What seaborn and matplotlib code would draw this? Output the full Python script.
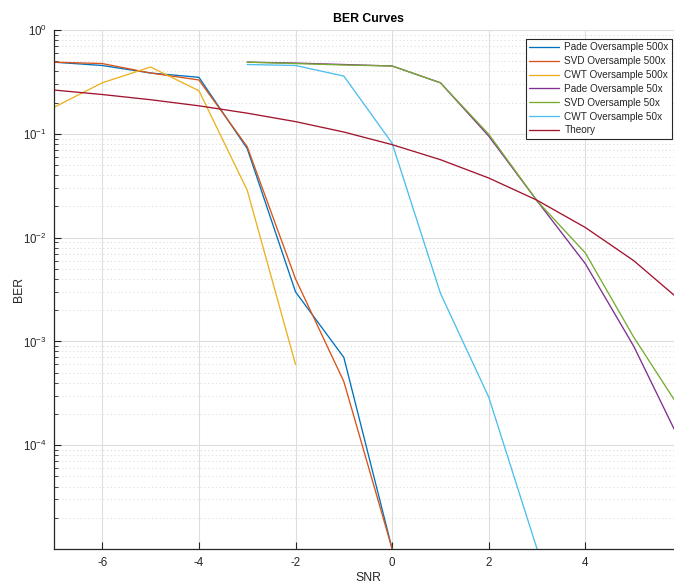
import numpy as np
import pandas as pd
import matplotlib
matplotlib.use("Agg")
import matplotlib.pyplot as plt
import seaborn as sns
from matplotlib.ticker import LogLocator, NullFormatter, FixedLocator

# ---- data -------------------------------------------------------------
snr_500 = [-7, -6, -5, -4, -3, -2, -1, 0]
pade_500 = [0.49, 0.455, 0.385, 0.35, 0.072, 0.0030, 7.0e-4, 1.0e-5]
svd_500 = [0.49, 0.475, 0.385, 0.33, 0.075, 0.0040, 4.1e-4, 1.0e-5]

snr_cwt_500 = [-7, -6, -5, -4, -3, -2]
cwt_500 = [0.18, 0.31, 0.44, 0.26, 0.0286, 6.0e-4]

snr_50 = [-3, -2, -1, 0, 1, 2, 3, 4, 5, 6]
pade_50 = [0.49, 0.48, 0.465, 0.45, 0.31, 0.095, 0.0226, 0.0056, 9.0e-4, 1.0e-4]
svd_50 = [0.49, 0.475, 0.46, 0.45, 0.31, 0.099, 0.0226, 0.0071, 1.1e-3, 2.1e-4]

snr_cwt_50 = [-3, -2, -1, 0, 1, 2, 3]
cwt_50 = [0.465, 0.455, 0.36, 0.081, 0.0029, 2.9e-4, 1.0e-5]

snr_theory = [-7, -6, -5, -4, -3, -2, -1, 0, 1, 2, 3, 4, 5, 6]
theory = [0.264, 0.239, 0.213, 0.186, 0.158, 0.131, 0.104, 0.0786,
          0.0563, 0.0375, 0.0229, 0.0125, 0.0060, 0.0024]

x_ticks = [-6, -4, -2, 0, 2, 4]
y_ticks = [1e-4, 1e-3, 1e-2, 1e-1, 1e0]

series = [
    ("Pade Oversample 500x", snr_500, pade_500, "#0072BD"),
    ("SVD Oversample 500x", snr_500, svd_500, "#D95319"),
    ("CWT Oversample 500x", snr_cwt_500, cwt_500, "#EDB120"),
    ("Pade Oversample 50x", snr_50, pade_50, "#7E2F8E"),
    ("SVD Oversample 50x", snr_50, svd_50, "#77AC30"),
    ("CWT Oversample 50x", snr_cwt_50, cwt_50, "#4DBEEE"),
    ("Theory", snr_theory, theory, "#A2142F"),
]

# ---- style ------------------------------------------------------------
sns.set_theme(style="white")
plt.rcParams["font.family"] = ["Liberation Sans", "DejaVu Sans"]
plt.rcParams["mathtext.default"] = "regular"
plt.rcParams["axes.unicode_minus"] = False
dark = "#262626"

fig = plt.figure(figsize=(6.74, 5.83), dpi=100)
ax = fig.add_axes([54 / 674, 34 / 583, 628 / 674, 519 / 583])

for name, xs, ys, color in series:
    df = pd.DataFrame({"SNR": xs, "BER": ys})
    sns.lineplot(data=df, x="SNR", y="BER", ax=ax, color=color,
                 linewidth=0.95, label=name, estimator=None, sort=False)

ax.set_yscale("log")
ax.set_xlim(-7, 6)
ax.set_ylim(1e-5, 1)
ax.xaxis.set_major_locator(FixedLocator(x_ticks))
ax.yaxis.set_major_locator(FixedLocator(y_ticks))
ax.yaxis.set_minor_locator(LogLocator(base=10, subs=np.arange(2, 10), numticks=20))
ax.yaxis.set_minor_formatter(NullFormatter())

# grid: solid major lines, dotted minor lines
ax.grid(True, which="major", color="#dedede", linewidth=0.8, linestyle="-")
ax.grid(True, which="minor", axis="y", color="#d8d8d8", linewidth=0.6,
        linestyle=(0, (1.5, 3)))
ax.set_axisbelow(True)

for side in ("top", "right"):
    ax.spines[side].set_visible(False)
for side in ("left", "bottom"):
    ax.spines[side].set_color(dark)
    ax.spines[side].set_linewidth(0.9)

ax.tick_params(axis="both", which="major", direction="in", length=5,
               width=0.8, color=dark, labelcolor=dark, labelsize=8.3,
               left=True, bottom=True, pad=6)
ax.tick_params(axis="y", which="minor", direction="in", length=3,
               width=0.6, color=dark, left=True)
ax.tick_params(axis="y", which="major", pad=5)

ax.set_xlabel("SNR", fontsize=8.8, color=dark)
ax.set_ylabel("BER", fontsize=8.8, color=dark)
ax.xaxis.set_label_coords(0.5, -0.044)
ax.yaxis.set_label_coords(-0.046, 0.5)
ax.set_title("BER Curves", fontsize=8.8, fontweight="bold", color="black", pad=6)

leg = ax.legend(loc="upper right", bbox_to_anchor=(672 / 674, 1 - 39 / 583),
                bbox_transform=fig.transFigure, borderaxespad=0,
                fontsize=7.2, frameon=True, fancybox=False,
                handlelength=3.0, handletextpad=0.5, labelspacing=0.38,
                borderpad=0.35)
leg.get_frame().set_edgecolor(dark)
leg.get_frame().set_linewidth(0.8)
leg.get_frame().set_facecolor("white")
leg.get_frame().set_alpha(1)
for t in leg.get_texts():
    t.set_color(dark)

fig.savefig("out.png", dpi=100, facecolor="white")
